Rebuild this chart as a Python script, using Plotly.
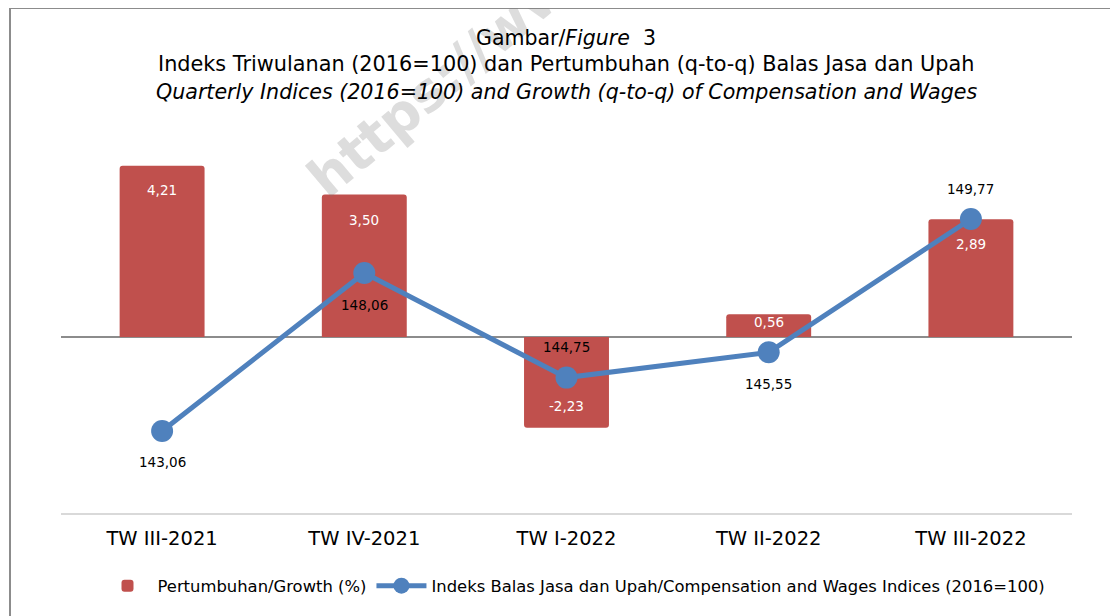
import plotly.graph_objects as go

categories = ["TW III-2021", "TW IV-2021", "TW I-2022", "TW II-2022", "TW III-2022"]
growth = [4.21, 3.50, -2.23, 0.56, 2.89]
indices = [143.06, 148.06, 144.75, 145.55, 149.77]

# styling (pixel offsets of data labels, positive = up)
growth_label_shift = [-24, -25, 22, -8, -25]
index_label_shift = [-31, -32, 31, -32, 30]

# page body margin offset (screen px)
OFF = 8
SW, SH = 1118, 616
W, H = SW - OFF, SH - OFF
# plot area in screen pixels
SL, SR, ST, SB = 61, 1072, 140, 513
L, T = SL - OFF, ST - OFF
R, B = W - (SR - OFF), H - (SB - OFF)
PW, PH = SR - SL, SB - ST


def px_to_paper(x, y):
    """screen pixel -> paper coords"""
    return (x - SL) / PW, (SB - y) / PH


def fmt(v):
    return f"{v:.2f}".replace(".", ",")


FONT = "DejaVu Sans"
BAR_COLOR = "#C0504D"
LINE_COLOR = "#4F81BD"

fig = go.Figure()
fig.add_trace(go.Bar(
    x=categories, y=growth, name="Pertumbuhan/Growth (%)",
    marker=dict(color=BAR_COLOR, cornerradius=3, line=dict(width=0)),
    width=0.42, yaxis="y", hoverinfo="skip",
))
fig.add_trace(go.Scatter(
    x=categories, y=indices, name="Indeks Balas Jasa dan Upah/Compensation and Wages Indices (2016=100)",
    mode="lines+markers", yaxis="y2",
    line=dict(color=LINE_COLOR, width=5),
    marker=dict(color=LINE_COLOR, size=22),
    hoverinfo="skip",
))

annotations = []
# watermark
wx, wy = px_to_paper(458, 66)
annotations.append(dict(
    text="<b>https://www</b>", x=wx, y=wy, xref="paper", yref="paper",
    showarrow=False, textangle=-40, font=dict(family=FONT, size=54, color="rgba(120,120,120,0.25)"),
    xanchor="center", yanchor="middle",
))
for c, v, s in zip(categories, growth, growth_label_shift):
    annotations.append(dict(
        x=c, y=v, xref="x", yref="y", text=fmt(v), showarrow=False, yshift=s,
        font=dict(family=FONT, size=13.5, color="white"), xanchor="center", yanchor="middle",
    ))
for c, v, s in zip(categories, indices, index_label_shift):
    annotations.append(dict(
        x=c, y=v, xref="x", yref="y2", text=fmt(v), showarrow=False, yshift=s,
        font=dict(family=FONT, size=13.5, color="black"), xanchor="center", yanchor="middle",
    ))
# title lines
cx = px_to_paper(566, 0)[0]
for ypx, txt, sz in [(38, "Gambar/<i>Figure</i>  3", 20.5),
                     (64, "Indeks Triwulanan (2016=100) dan Pertumbuhan (q-to-q) Balas Jasa dan Upah", 20.8),
                     (92, "<i>Quarterly Indices (2016=100) and Growth (q-to-q) of Compensation and Wages</i>", 20.6)]:
    annotations.append(dict(
        x=cx, y=px_to_paper(0, ypx)[1], xref="paper", yref="paper", text=txt, showarrow=False,
        font=dict(family=FONT, size=sz, color="black"), xanchor="center", yanchor="middle",
    ))

fx0, fy1 = px_to_paper(10, 8)
fx1, fy0 = px_to_paper(1140, 640)

fig.update_layout(
    width=W, height=H,
    margin=dict(l=L, r=R, t=T, b=B, pad=0),
    paper_bgcolor="white", plot_bgcolor="white",
    font=dict(family=FONT, color="black"),
    barmode="overlay",
    showlegend=True,
    legend=dict(orientation="h", x=px_to_paper(574, 0)[0], xanchor="center", y=px_to_paper(0, 586)[1],
                yanchor="middle", font=dict(family=FONT, size=16.4, color="black"), itemwidth=50),
    xaxis=dict(showgrid=False, showline=True, linecolor="#D9D9D9", linewidth=2,
               ticks="", tickfont=dict(family=FONT, size=19.5, color="black"), ticklabelstandoff=7,
               fixedrange=True),
    yaxis=dict(range=[-4.324, 4.840], visible=True, showgrid=False, showticklabels=False,
               zeroline=True, zerolinecolor="#8C8C8C", zerolinewidth=2, showline=False, ticks=""),
    yaxis2=dict(range=[140.465, 152.269], overlaying="y", side="right", visible=False),
    annotations=annotations,
    shapes=[dict(type="rect", xref="paper", yref="paper", x0=fx0, x1=fx1, y0=fy0, y1=fy1,
                 line=dict(color="#8C8C8C", width=2), layer="above")],
)

fig.write_html("out.html")
